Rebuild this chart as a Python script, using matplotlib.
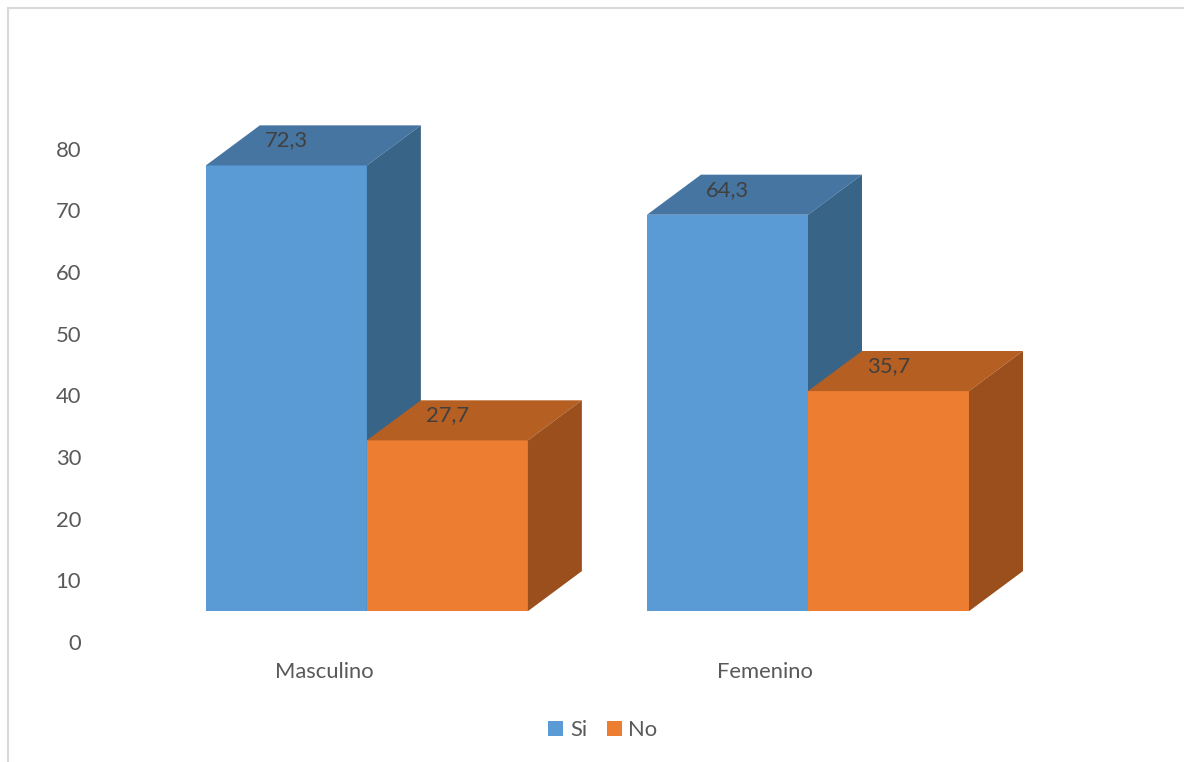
import numpy as np
import matplotlib.pyplot as plt
from matplotlib.patches import Polygon, Patch, Rectangle

plt.rcParams['font.family'] = ['Lato', 'DejaVu Sans']

categories = ['Masculino', 'Femenino']
series = ['Si', 'No']
si_values = [72.3, 64.3]
no_values = [27.7, 35.7]
value_labels = {'Si': ['72,3', '64,3'], 'No': ['27,7', '35,7']}
yticks = [0, 10, 20, 30, 40, 50, 60, 70, 80]

# colours: front, top, side
colors = {
    'Si': ('#5B9BD5', '#4675A2', '#386487'),
    'No': ('#ED7D31', '#B65F22', '#9A4F1D'),
}

bar_w = 0.365      # width of one front face (category spacing = 1)
depth_x = 0.1224   # 3D depth offset in x (data units)
depth_y = 6.5      # 3D depth offset in y (data units)
base = 5.0         # front faces start a bit above the axis zero
fsize = 15.8

fig = plt.figure(figsize=(11.84, 7.62), dpi=100)
ax = fig.add_axes([100 / 1184, 120 / 762, 1030 / 1184, 582 / 762])
ax.set_xlim(-0.605, 1.730)
ax.set_ylim(0, 94.4)
for s in ax.spines.values():
    s.set_visible(False)
ax.set_xticks([])
ax.set_yticks(yticks)
ax.set_yticklabels([str(t) for t in yticks])
ax.tick_params(axis='y', length=0, pad=13.7, labelsize=fsize, labelcolor='#595959')


def draw_box(ax, x0, value, cols):
    x1 = x0 + bar_w
    y0 = base
    y1 = base + value
    front = Polygon([(x0, y0), (x1, y0), (x1, y1), (x0, y1)], closed=True,
                    facecolor=cols[0], edgecolor='none')
    top = Polygon([(x0, y1), (x1, y1), (x1 + depth_x, y1 + depth_y), (x0 + depth_x, y1 + depth_y)],
                  closed=True, facecolor=cols[1], edgecolor='none')
    side = Polygon([(x1, y0), (x1 + depth_x, y0 + depth_y), (x1 + depth_x, y1 + depth_y), (x1, y1)],
                   closed=True, facecolor=cols[2], edgecolor='none')
    for p in (front, top, side):
        ax.add_patch(p)
    return x0 + bar_w / 2, y1


for i, cat in enumerate(categories):
    for name, vals, x0 in (('Si', si_values, i - bar_w), ('No', no_values, i)):
        cx, ytop = draw_box(ax, x0, vals[i], colors[name])
        ax.text(cx, ytop + 0.62 * depth_y, value_labels[name][i], ha='center', va='center',
                fontsize=fsize, color='#404040')
    ax.text(i - 0.097, -4.9, cat, ha='center', va='center', fontsize=fsize,
            color='#595959', clip_on=False)

handles = [Patch(facecolor=colors[s][0], edgecolor='none', label=s) for s in series]
fig.legend(handles=handles, loc='center', bbox_to_anchor=(603 / 1184, 1 - 730 / 762), ncol=2,
           frameon=False, fontsize=fsize, labelcolor='#595959', handlelength=0.68,
           handleheight=0.68, handletextpad=0.3, columnspacing=0.9)

# light chart-area border (only top and left are inside the picture)
fig.add_artist(Rectangle((8 / 1184, -0.1), 1.2, 1.1 - 8 / 762, transform=fig.transFigure,
                         fill=False, edgecolor='#D9D9D9', linewidth=1.5))

plt.savefig('out.png', dpi=100)
plt.close()
